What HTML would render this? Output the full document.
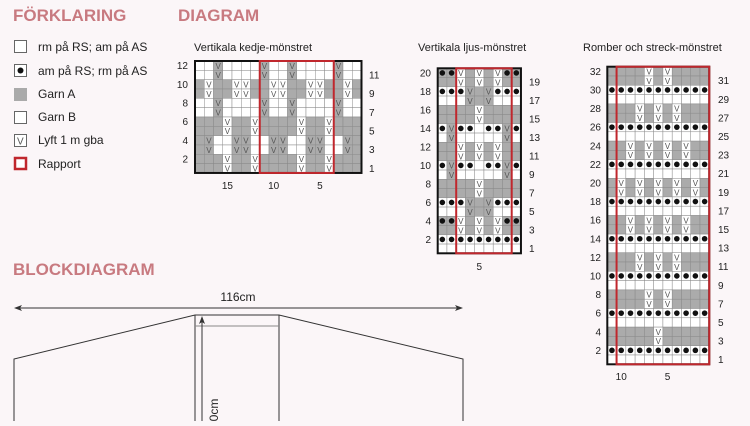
<!DOCTYPE html>
<html><head><meta charset="utf-8"><style>
html,body{margin:0;padding:0;background:#fbf6f8;}
body{width:750px;height:421px;overflow:hidden;font-family:"Liberation Sans",sans-serif;}
</style></head><body>
<svg id="s" width="750" height="421" xmlns="http://www.w3.org/2000/svg" font-family="Liberation Sans, sans-serif">
<g fill="#c87a80" font-weight="bold" font-size="17">
<text x="13" y="21">FÖRKLARING</text>
<text x="178" y="21">DIAGRAM</text>
<text x="13" y="275">BLOCKDIAGRAM</text>
</g>
<g font-size="11" fill="#222">
<text x="194" y="51">Vertikala kedje-mönstret</text>
<text x="418" y="51">Vertikala ljus-mönstret</text>
<text x="583" y="51">Romber och streck-mönstret</text>
</g>
<g font-size="12" fill="#222">
<rect x="14.5" y="40.5" width="12" height="12" fill="#fff" stroke="#666"/><text x="38" y="51">rm på RS; am på AS</text>
<rect x="14.5" y="64.5" width="12" height="12" fill="#fff" stroke="#666"/><circle cx="20.5" cy="70.5" r="3" fill="#111"/><text x="38" y="75">am på RS; rm på AS</text>
<rect x="14" y="88" width="13" height="13" fill="#aaa"/><text x="38" y="98">Garn A</text>
<rect x="14.5" y="111.5" width="12" height="12" fill="#fff" stroke="#666"/><text x="38" y="121">Garn B</text>
<rect x="14.5" y="134.5" width="12" height="12" fill="#fff" stroke="#666"/><text x="17" y="144.5" font-size="10" fill="#555">V</text><text x="38" y="144">Lyft 1 m gba</text>
<rect x="15" y="158" width="11" height="11" fill="#fff" stroke="#c0272d" stroke-width="2.5"/><text x="38" y="168">Rapport</text>
</g>
<g id="charts"></g>
<g stroke="#333" fill="none" stroke-width="1">
<line x1="16" y1="308" x2="461" y2="308"/>
<polyline points="14,421 14,359 195,315 279,315 463,359 463,421"/>
<line x1="195" y1="315" x2="195" y2="421"/>
<line x1="279" y1="315" x2="279" y2="421"/>
<line x1="195" y1="326" x2="279" y2="326" stroke="#888"/>
<line x1="202" y1="320" x2="202" y2="421"/>
</g>
<g fill="#333">
<polygon points="14,308 22,305 20,308 22,311"/>
<polygon points="463,308 455,305 457,308 455,311"/>
<polygon points="202,316 199,324 202,322 205,324"/>
</g>
<text x="238" y="301" font-size="12" text-anchor="middle" fill="#222">116cm</text>
<text transform="translate(218,428) rotate(-90)" font-size="12" fill="#222">70cm</text>
</svg>
<script>
var g=document.getElementById('charts'),h='';
function chart(x0,y0,cw,ch,rows,red,labL,labR,labY,cols){
 var n=rows[0].length,R=rows.length;
 for(var r=0;r<R;r++){var row=rows[r];for(var c=0;c<n;c++){var t=row[c],x=x0+c*cw,y=y0+r*ch;
  var gray=(t=='g'||t=='v'||t=='O');
  h+='<rect x="'+x+'" y="'+y+'" width="'+cw+'" height="'+ch+'" fill="'+(gray?'#ababab':'#fff')+'" stroke="#8a8a8a" stroke-width="0.5"/>';
  if(t=='V'||t=='v')h+='<text x="'+(x+cw/2)+'" y="'+(y+ch-1.5)+'" font-size="8" text-anchor="middle" fill="#555">V</text>';
  if(t=='o'||t=='O')h+='<circle cx="'+(x+cw/2)+'" cy="'+(y+ch/2)+'" r="2.8" fill="#111"/>';
 }}
 h+='<rect x="'+x0+'" y="'+y0+'" width="'+(n*cw)+'" height="'+(R*ch)+'" fill="none" stroke="#111" stroke-width="2"/>';
 h+='<rect x="'+(x0+red[0]*cw)+'" y="'+y0+'" width="'+((red[1]-red[0])*cw)+'" height="'+(R*ch)+'" fill="none" stroke="#c0272d" stroke-width="2"/>';
 for(var r=0;r<R;r++){var num=R-r,y=y0+r*ch+ch/2+3.5;
  if(num%2==0)h+='<text x="'+labL+'" y="'+y+'" font-size="10" text-anchor="end" fill="#222">'+num+'</text>';
  else h+='<text x="'+labR+'" y="'+y+'" font-size="10" fill="#222">'+num+'</text>';}
 cols.forEach(function(k){var c=n-k;h+='<text x="'+(x0+c*cw+cw/2)+'" y="'+labY+'" font-size="10" text-anchor="middle" fill="#222">'+k+'</text>';});
}
var A="wwvwwwwvwwvwwwwvww",B="gVggVVggVVggVVggVg",C="gggVggVggggVggVggg",D="gvwwvvwwvvwwvvwwvg";
chart(195,61,9.25,9.33,[A,A,B,B,A,A,C,C,D,D,C,C],[7,15],188,369,189,[15,10,5]);
var r2=["OOVgVgVOO","ggVgVgVgg","ooovgvooo","wwwvgvwww","ggggVgggg","ggggVgggg","ovoowoovo","wvwwwwwvw","ggVgVgVgg","ggVgVgVgg","ovoowoovo","wvwwwwwvw","ggggVgggg","ggggVgggg","ooovgvooo","wwwvgvwww","OOVgVgVOO","ggVgVgVgg","ooooooooo","wwwwwwwww"];
chart(437.7,68.3,9.25,9.25,r2,[2,8],431,529,270,[5]);
var P32="ggggVgVgggg",P28="gggVgVgVggg",P24="ggVgVgVgVgg",P20="gVgVgVgVgVg",P4="gggggVggggg",DO="ooooooooooo",W="wwwwwwwwwww";
var r3=[P32,P32,DO,W,P28,P28,DO,W,P24,P24,DO,W,P20,P20,DO,W,P24,P24,DO,W,P28,P28,DO,W,P32,P32,DO,W,P4,P4,DO,W];
chart(607.3,66.7,9.27,9.3,r3,[1,11],601,718,380,[10,5]);
g.innerHTML=h;
</script>
</body></html>
